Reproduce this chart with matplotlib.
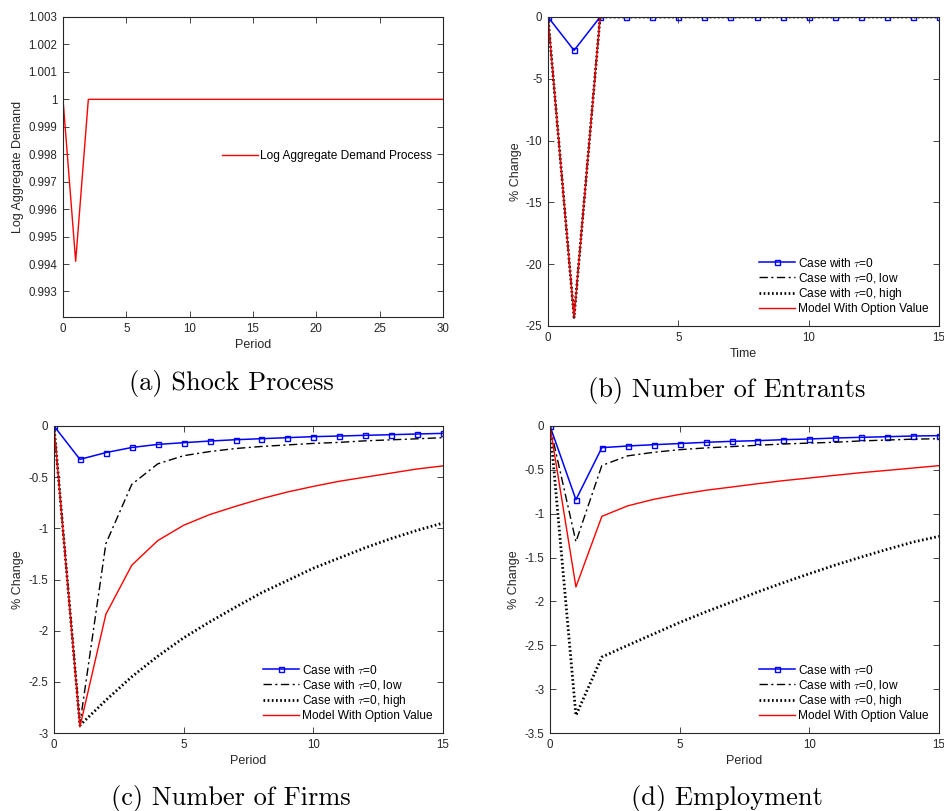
import matplotlib
matplotlib.use("Agg")
import matplotlib.pyplot as plt
from matplotlib.ticker import FuncFormatter

plt.rcParams["font.family"] = ["Liberation Sans", "DejaVu Sans"]
plt.rcParams["mathtext.fontset"] = "cm"
plt.rcParams["axes.unicode_minus"] = False
plt.rcParams["font.size"] = 8

# Shock process (log aggregate demand), periods 0..30
shock_periods = list(range(31))
shock_values = [1.0, 0.9941, 1.0, 1.0, 1.0, 1.0, 1.0, 1.0, 1.0, 1.0, 1.0,
                1.0, 1.0, 1.0, 1.0, 1.0, 1.0, 1.0, 1.0, 1.0, 1.0,
                1.0, 1.0, 1.0, 1.0, 1.0, 1.0, 1.0, 1.0, 1.0, 1.0]

# Impulse responses, periods 0..15 (% change)
periods = list(range(16))

entrants_tau0 = [0.0, -2.7, 0.0, 0.0, 0.0, 0.0, 0.0, 0.0, 0.0, 0.0, 0.0, 0.0, 0.0, 0.0, 0.0, 0.0]
entrants_low = [0.0, -24.3, 0.0, 0.0, 0.0, 0.0, 0.0, 0.0, 0.0, 0.0, 0.0, 0.0, 0.0, 0.0, 0.0, 0.0]
entrants_high = [0.0, -24.3, 0.0, 0.0, 0.0, 0.0, 0.0, 0.0, 0.0, 0.0, 0.0, 0.0, 0.0, 0.0, 0.0, 0.0]
entrants_option = [0.0, -24.3, 0.0, 0.0, 0.0, 0.0, 0.0, 0.0, 0.0, 0.0, 0.0, 0.0, 0.0, 0.0, 0.0, 0.0]

firms_tau0 = [0.0, -0.326, -0.26, -0.21, -0.18, -0.163, -0.147, -0.134, -0.124, -0.114,
              -0.104, -0.098, -0.091, -0.085, -0.078, -0.072]
firms_low = [0.0, -2.91, -1.15, -0.57, -0.37, -0.29, -0.25, -0.22, -0.20, -0.185,
             -0.17, -0.16, -0.145, -0.135, -0.125, -0.114]
firms_high = [0.0, -2.925, -2.68, -2.45, -2.25, -2.07, -1.915, -1.77, -1.63, -1.51,
              -1.39, -1.29, -1.19, -1.10, -1.02, -0.948]
firms_option = [0.0, -2.94, -1.84, -1.36, -1.12, -0.97, -0.866, -0.785, -0.71, -0.645,
                -0.59, -0.54, -0.50, -0.46, -0.42, -0.39]

employment_tau0 = [0.0, -0.84, -0.247, -0.228, -0.213, -0.20, -0.186, -0.175, -0.167, -0.156,
                   -0.148, -0.137, -0.129, -0.122, -0.114, -0.11]
employment_low = [0.0, -1.32, -0.45, -0.34, -0.30, -0.27, -0.25, -0.235, -0.22, -0.205,
                  -0.195, -0.185, -0.17, -0.16, -0.15, -0.145]
employment_high = [0.0, -3.30, -2.634, -2.50, -2.37, -2.24, -2.12, -2.007, -1.893, -1.786,
                   -1.684, -1.585, -1.494, -1.406, -1.323, -1.258]
employment_option = [0.0, -1.835, -1.03, -0.91, -0.836, -0.78, -0.733, -0.696, -0.658, -0.623,
                     -0.593, -0.562, -0.532, -0.506, -0.479, -0.452]

series_labels = [r"Case with $\tau$=0", r"Case with $\tau$=0, low",
                 r"Case with $\tau$=0, high", "Model With Option Value"]

axis_color = "#262626"
fig_w, fig_h = 945, 811
label_size = 9
tick_size = 8.3
legend_size = 8.6


def px_axes(fig, left, top, right, bottom):
    return fig.add_axes([left / fig_w, 1 - bottom / fig_h, (right - left) / fig_w, (bottom - top) / fig_h])


def style_axis(ax):
    for spine in ax.spines.values():
        spine.set_color(axis_color)
        spine.set_linewidth(0.8)
    ax.tick_params(direction="in", top=True, right=True, length=4, width=0.6,
                   colors=axis_color, labelsize=tick_size, pad=4)


def plain_format(v, _):
    return f"{round(v, 4):g}"


def draw_responses(ax, tau0, low, high, option):
    ax.plot(periods, tau0, color="#0000ff", lw=1.1, marker="s", ms=3.6,
            mfc="none", mew=1.0, label=series_labels[0])
    ax.plot(periods, low, color="black", lw=1.0, dashes=(6, 2.5, 1.5, 2.5), label=series_labels[1])
    ax.plot(periods, high, color="black", lw=2.0, linestyle=(0, (0.6, 0.9)), label=series_labels[2])
    ax.plot(periods, option, color="#ff0000", lw=1.0, label=series_labels[3])
    ax.set_xlim(0, 15)
    ax.set_xticks([0, 5, 10, 15])
    ax.legend(loc="lower right", frameon=False, fontsize=legend_size, handlelength=3.0,
              handletextpad=0.2, labelspacing=0.1, borderaxespad=0.5)
    ax.yaxis.set_major_formatter(FuncFormatter(plain_format))


fig = plt.figure(figsize=(9.45, 8.11), dpi=100)
caption_font = {"family": "cmr10", "size": 19}

# (a) shock process
ax_a = px_axes(fig, 63, 17, 443, 317)
ax_a.plot(shock_periods, shock_values, color="#ff0000", lw=1.0, label="Log Aggregate Demand Process")
ax_a.set_xlim(0, 30)
ax_a.set_ylim(0.99207, 1.003)
ax_a.set_xticks([0, 5, 10, 15, 20, 25, 30])
ax_a.set_yticks([0.993, 0.994, 0.995, 0.996, 0.997, 0.998, 0.999, 1.0, 1.001, 1.002, 1.003])
ax_a.yaxis.set_major_formatter(FuncFormatter(plain_format))
ax_a.set_xlabel("Period", color=axis_color, labelpad=3, fontsize=label_size)
ax_a.set_ylabel("Log Aggregate Demand", color=axis_color, labelpad=3, fontsize=label_size)
ax_a.legend(loc="center left", bbox_to_anchor=(0.39, 0.535), frameon=False, fontsize=legend_size,
            handlelength=3.0, handletextpad=0.2)
style_axis(ax_a)
fig.text(231 / fig_w, 1 - 383 / fig_h, "(a) Shock Process", ha="center", va="center", **caption_font)

# (b) number of entrants
ax_b = px_axes(fig, 548, 17, 939, 326)
draw_responses(ax_b, entrants_tau0, entrants_low, entrants_high, entrants_option)
ax_b.set_ylim(-25, 0)
ax_b.set_yticks([-25, -20, -15, -10, -5, 0])
ax_b.set_xlabel("Time", color=axis_color, labelpad=3, fontsize=label_size)
ax_b.set_ylabel("% Change", color=axis_color, labelpad=3, fontsize=label_size)
style_axis(ax_b)
fig.text(727 / fig_w, 1 - 391 / fig_h, "(b) Number of Entrants", ha="center", va="center", **caption_font)

# (c) number of firms
ax_c = px_axes(fig, 54, 426, 443, 733)
draw_responses(ax_c, firms_tau0, firms_low, firms_high, firms_option)
ax_c.set_ylim(-3, 0)
ax_c.set_yticks([-3, -2.5, -2, -1.5, -1, -0.5, 0])
ax_c.set_xlabel("Period", color=axis_color, labelpad=3, fontsize=label_size)
ax_c.set_ylabel("% Change", color=axis_color, labelpad=3, fontsize=label_size)
style_axis(ax_c)
fig.text(231 / fig_w, 1 - 798 / fig_h, "(c) Number of Firms", ha="center", va="center", **caption_font)

# (d) employment
ax_d = px_axes(fig, 550, 426, 939, 733)
draw_responses(ax_d, employment_tau0, employment_low, employment_high, employment_option)
ax_d.set_ylim(-3.5, 0)
ax_d.set_yticks([-3.5, -3, -2.5, -2, -1.5, -1, -0.5, 0])
ax_d.set_xlabel("Period", color=axis_color, labelpad=3, fontsize=label_size)
ax_d.set_ylabel("% Change", color=axis_color, labelpad=3, fontsize=label_size)
style_axis(ax_d)
fig.text(727 / fig_w, 1 - 798 / fig_h, "(d) Employment", ha="center", va="center", **caption_font)

fig.savefig("out.png", dpi=100)
